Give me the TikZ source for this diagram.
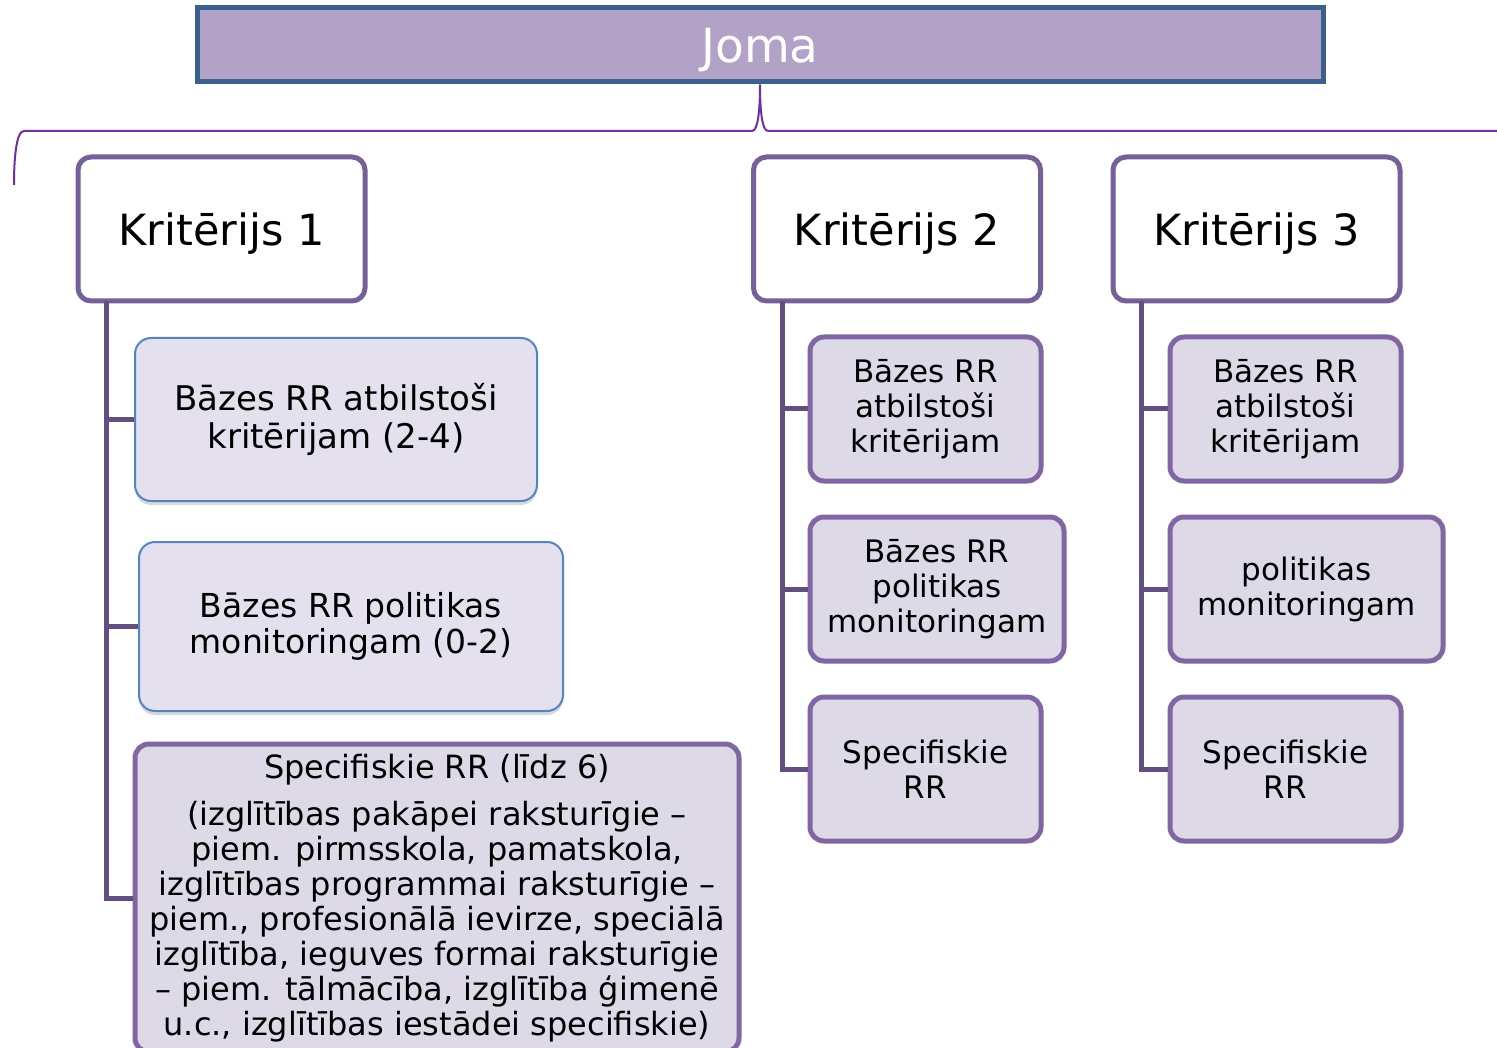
\documentclass[tikz,border=0pt]{standalone}
\usepackage{fontspec}
\setmainfont{DejaVu Sans}
\usetikzlibrary{shadows}
\definecolor{jomafill}{HTML}{B3A2C7}
\definecolor{jomaborder}{HTML}{3C608E}
\definecolor{kborder}{HTML}{76609A}
\definecolor{trunkcol}{HTML}{634E80}
\definecolor{sborder}{HTML}{8066A2}
\definecolor{sfill}{HTML}{DDD9E7}
\definecolor{bfill}{HTML}{E5E0EE}
\definecolor{bborder}{HTML}{5585C0}
\definecolor{bracecol}{HTML}{7030A0}
\tikzset{
  jomabox/.style={draw=jomaborder, fill=jomafill, line width=5pt, minimum width=1126pt, minimum height=74pt, inner sep=0pt, text depth=0pt, text=white, font=\fontsize{47}{52}\selectfont},
  kbox/.style={draw=kborder, fill=white, line width=5pt, rounded corners=13pt, minimum width=287pt, minimum height=144pt, inner sep=0pt, text depth=0pt, font=\fontsize{43}{48}\selectfont},
  bluebox/.style={draw=bborder, fill=bfill, line width=2pt, rounded corners=16pt, inner sep=0pt, align=center, font=\fontsize{34}{38}\selectfont, drop shadow={shadow xshift=0pt, shadow yshift=-4pt, opacity=0.3}},
  sbox/.style={draw=sborder, fill=sfill, line width=5pt, rounded corners=14pt, inner sep=0pt, align=center, minimum height=144pt, font=\fontsize{31}{35}\selectfont},
  trunk/.style={draw=trunkcol, line width=5pt},
  bracepath/.style={draw=bracecol, line width=2pt}
}
\begin{document}
\begin{tikzpicture}[x=1pt,y=-1pt]
\useasboundingbox (0,0) rectangle (1497,1048);
% top
\node[jomabox] (joma) at (760,45) {Joma};
% brace
\coordinate (tip) at (joma.south);
\draw[bracepath] (14,185) .. controls (14,160) and (16,131) .. (24,131) -- (752,131)
  .. controls (758,131) and (760,110) .. (tip)
  .. controls (760,110) and (762,131) .. (768,131) -- (1500,131);
% criteria
\node[kbox] (k1) at (221.5,229) {Kritērijs 1};
\node[kbox] (k2) at (897,229) {Kritērijs 2};
\node[kbox] (k3) at (1256.5,229) {Kritērijs 3};
% column 1
\node[bluebox, minimum width=402pt, minimum height=163pt] (b1a) at (336,419.5) {Bāzes RR atbilstoši\\kritērijam (2-4)};
\node[bluebox, minimum width=424pt, minimum height=169pt, font=\fontsize{33}{36}\selectfont] (b1b) at (351,626.5) {Bāzes RR politikas\\monitoringam (0-2)};
\node[sbox, minimum width=604pt, minimum height=308pt, font=\fontsize{32}{35}\selectfont] (b1c) at (437,898) {\raisebox{-2pt}{Specifiskie RR (līdz 6)}\\[14pt](izglītības pakāpei raksturīgie –\\piem. pirmsskola, pamatskola,\\izglītības programmai raksturīgie –\\piem., profesionālā ievirze, speciālā\\izglītība, ieguves formai raksturīgie\\– piem. tālmācība, izglītība ģimenē\\u.c., izglītības iestādei specifiskie)};
\coordinate (t1) at (106,301);
\draw[trunk] (t1) |- (b1c.west);
\draw[trunk] (t1 |- b1a.west) -- (b1a.west);
\draw[trunk] (t1 |- b1b.west) -- (b1b.west);
% column 2
\node[sbox, minimum width=231pt] (b2a) at (925.5,409) {Bāzes RR\\atbilstoši\\kritērijam};
\node[sbox, minimum width=254pt] (b2b) at (937,589) {Bāzes RR\\politikas\\monitoringam};
\node[sbox, minimum width=231pt] (b2c) at (925.5,769) {Specifiskie\\RR};
\coordinate (t2) at (782,301);
\draw[trunk] (t2) |- (b2c.west);
\draw[trunk] (t2 |- b2a.west) -- (b2a.west);
\draw[trunk] (t2 |- b2b.west) -- (b2b.west);
% column 3
\node[sbox, minimum width=231pt] (b3a) at (1285.5,409) {Bāzes RR\\atbilstoši\\kritērijam};
\node[sbox, minimum width=273pt] (b3b) at (1306.5,589) {politikas\\monitoringam};
\node[sbox, minimum width=231pt] (b3c) at (1285.5,769) {Specifiskie\\RR};
\coordinate (t3) at (1141,301);
\draw[trunk] (t3) |- (b3c.west);
\draw[trunk] (t3 |- b3a.west) -- (b3a.west);
\draw[trunk] (t3 |- b3b.west) -- (b3b.west);
\end{tikzpicture}
\end{document}
